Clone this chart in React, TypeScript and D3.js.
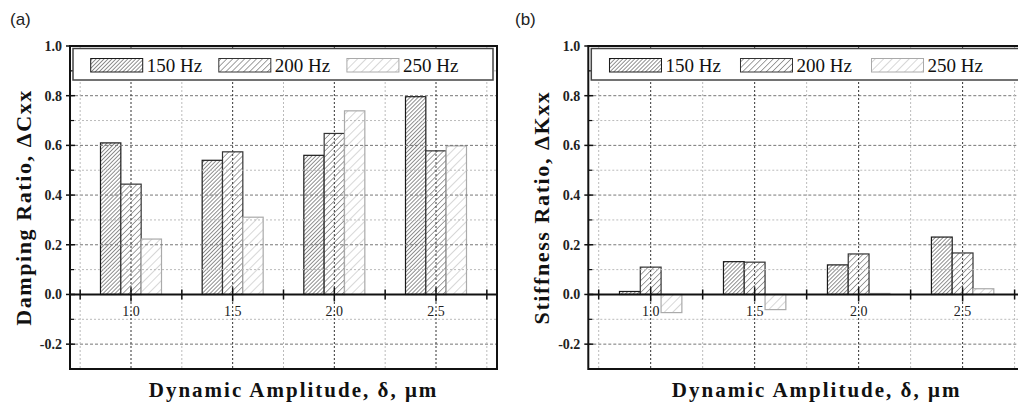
import React from 'react';
import * as d3 from 'd3';

// values
const amplitudes = [1.0, 1.5, 2.0, 2.5];
const frequencies = ['150 Hz', '200 Hz', '250 Hz'];
const damping150 = [0.61, 0.54, 0.56, 0.796];
const damping200 = [0.444, 0.574, 0.648, 0.578];
const damping250 = [0.223, 0.311, 0.739, 0.598];
const stiffness150 = [0.012, 0.132, 0.119, 0.231];
const stiffness200 = [0.11, 0.13, 0.163, 0.167];
const stiffness250 = [-0.073, -0.061, 0.004, 0.023];
const yTicks = [-0.2, 0.0, 0.2, 0.4, 0.6, 0.8, 1.0];
const xTickLabels = ['1.0', '1.5', '2.0', '2.5'];

const serif = '"Liberation Serif", "Times New Roman", serif';
const barStyles = [
  { id: 'h150', stroke: '#1a1a1a', hatch: '#222', gap: 2.8, sw: 1 },
  { id: 'h200', stroke: '#333', hatch: '#444', gap: 4.2, sw: 1 },
  { id: 'h250', stroke: '#aaa', hatch: '#b0b0b0', gap: 6, sw: 1 },
];

function Patterns() {
  return (
    <defs>
      {barStyles.map(s => (
        <pattern key={s.id} id={s.id} width={s.gap} height={s.gap} patternUnits="userSpaceOnUse"
          patternTransform="rotate(45)">
          <rect width={s.gap} height={s.gap} fill="white" />
          <line x1={0} y1={0} x2={0} y2={s.gap} stroke={s.hatch} strokeWidth={s.sw} />
        </pattern>
      ))}
    </defs>
  );
}

type PanelProps = {
  left: number; right: number; top: number; bottom: number;
  tag: string; tagX: number; yTitle: string; series: number[][];
};

function Panel({ left, right, top, bottom, tag, tagX, yTitle, series }: PanelProps) {
  const x = d3.scaleLinear().domain([0.7, 2.8]).range([left, right]);
  const y = d3.scaleLinear().domain([-0.3, 1.0]).range([bottom, top]);
  const w = right - left;
  const barW = x(0.8) - x(0.7);
  const majorX = amplitudes;
  const minorX = d3.range(0.75, 2.8, 0.5);
  const majorY = [-0.2, 0.2, 0.4, 0.6, 0.8];
  const minorY = [-0.1, 0.1, 0.3, 0.5, 0.7, 0.9];
  const y0 = y(0);

  return (
    <g>
      <text x={tagX} y={25} fontFamily='"Liberation Sans", Arial, sans-serif' fontSize={17} fill="#222">{tag}</text>
      <rect x={left} y={top} width={w} height={bottom - top} fill="white" />
      {/* bars */}
      {series.map((vals, si) => vals.map((v, i) => {
        const cx = x(amplitudes[i] + (si - 1) * 0.1);
        const yv = y(v);
        return (
          <rect key={`${si}-${i}`} x={cx - barW / 2} y={Math.min(yv, y0)} width={barW}
            height={Math.abs(y0 - yv)} fill={`url(#${barStyles[si].id})`} stroke={barStyles[si].stroke} strokeWidth={1.2} />
        );
      }))}
      {/* grid */}
      {minorY.map(t => (
        <line key={`my${t}`} x1={left} x2={right} y1={y(t)} y2={y(t)} stroke="#bbb" strokeWidth={1} strokeDasharray="2,2" />
      ))}
      {majorY.map(t => (
        <line key={`My${t}`} x1={left} x2={right} y1={y(t)} y2={y(t)} stroke="#777" strokeWidth={1} strokeDasharray="3,2" />
      ))}
      {minorX.map(t => (
        <line key={`mx${t}`} x1={x(t)} x2={x(t)} y1={top} y2={bottom} stroke="#bbb" strokeWidth={1} strokeDasharray="2,2" />
      ))}
      {majorX.map(t => (
        <line key={`Mx${t}`} x1={x(t)} x2={x(t)} y1={top} y2={bottom} stroke="#333" strokeWidth={1} strokeDasharray="2,2" />
      ))}
      {/* zero axis */}
      <line x1={left} x2={right} y1={y0} y2={y0} stroke="#111" strokeWidth={2} />
      {minorX.map(t => (
        <line key={`tm${t}`} x1={x(t)} x2={x(t)} y1={y0 - 5} y2={y0 + 5} stroke="#111" strokeWidth={1.5} />
      ))}
      {majorX.map(t => (
        <line key={`tM${t}`} x1={x(t)} x2={x(t)} y1={y0 - 7} y2={y0 + 7} stroke="#111" strokeWidth={1.5} />
      ))}
      {majorX.map((t, i) => (
        <text key={`xl${t}`} x={x(t)} y={y0 + 22} textAnchor="middle" fontFamily={serif} fontSize={14} fill="#222">{xTickLabels[i]}</text>
      ))}
      {/* y ticks */}
      {yTicks.map(t => (
        <g key={`yt${t}`}>
          <line x1={left - 4} x2={left + 5} y1={y(t)} y2={y(t)} stroke="#111" strokeWidth={1.5} />
          <text x={left - 8} y={y(t) + 5} textAnchor="end" fontFamily={serif} fontSize={14} fontWeight="bold" fill="#222">
            {t.toFixed(1)}
          </text>
        </g>
      ))}
      {minorY.map(t => (
        <line key={`ytm${t}`} x1={left} x2={left + 4} y1={y(t)} y2={y(t)} stroke="#111" strokeWidth={1.2} />
      ))}
      {/* legend */}
      <rect x={left + 3} y={top + 2.5} width={w - 7} height={31.5} fill="white" stroke="#444" strokeWidth={1.5} />
      {frequencies.map((f, i) => {
        const sx = left + w * (0.0485 + i * 0.3);
        return (
          <g key={f}>
            <rect x={sx} y={top + 12.5} width={52} height={13.5} fill={`url(#${barStyles[i].id})`} stroke={barStyles[i].stroke} strokeWidth={1} />
            <text x={sx + 56} y={top + 25.5} fontFamily={serif} fontSize={19} fill="#111">{f}</text>
          </g>
        );
      })}
      {/* frame */}
      <rect x={left} y={top} width={w} height={bottom - top} fill="none" stroke="#111" strokeWidth={2} />
      {/* axis titles */}
      <text x={left + w / 2 + 10} y={397} textAnchor="middle" fontFamily={serif} fontSize={21} fontWeight="bold"
        fill="#111" style={{ letterSpacing: '2px' }}>Dynamic Amplitude, δ, μm</text>
      <text transform={`translate(${left - 39},${(top + bottom) / 2}) rotate(-90)`} textAnchor="middle" fontFamily={serif}
        fontSize={22} fontWeight="bold" fill="#111" style={{ letterSpacing: '1.6px' }}>{yTitle}</text>
    </g>
  );
}

export default function App() {
  return (
    <div style={{ position: 'absolute', left: 0, top: 0 }}>
      <svg width={1018} height={407} style={{ display: 'block', background: 'white' }}>
        <Patterns />
        <Panel left={70} right={497} top={46} bottom={369} tag="(a)" tagX={10} yTitle="Damping Ratio, ΔCxx"
          series={[damping150, damping200, damping250]} />
        <Panel left={588.3} right={1025} top={46} bottom={369} tag="(b)" tagX={515} yTitle="Stiffness Ratio, ΔKxx"
          series={[stiffness150, stiffness200, stiffness250]} />
      </svg>
    </div>
  );
}
